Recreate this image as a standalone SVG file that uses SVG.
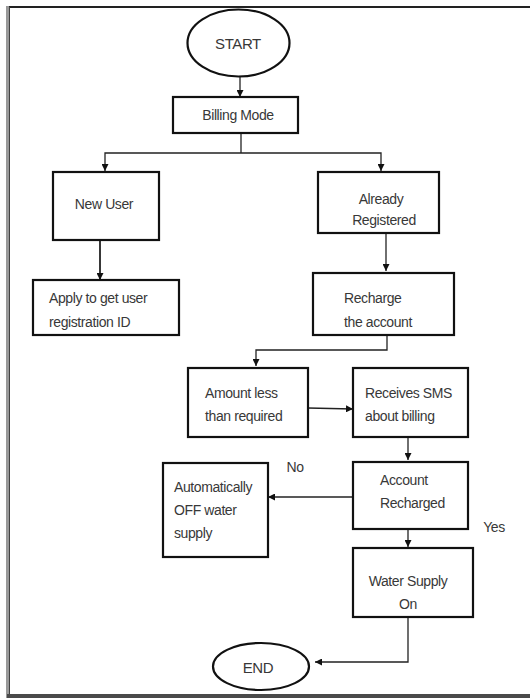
<svg xmlns="http://www.w3.org/2000/svg" width="530" height="698" viewBox="0 0 530 698">
<defs>
<style>
.box{fill:#fff;stroke:#111;stroke-width:2.2}
.t{font-family:"Liberation Sans",Arial,sans-serif;font-size:14px;fill:#383838;letter-spacing:-0.4px}
.c{text-anchor:middle}
.ln{fill:none;stroke:#222;stroke-width:1.3}
</style>
<marker id="ah" viewBox="0 0 10 10" refX="10" refY="5" markerWidth="7" markerHeight="7" markerUnits="userSpaceOnUse" orient="auto">
<path d="M0,0 L10,5 L0,10 z" fill="#111"/>
</marker>
</defs>
<rect x="0" y="0" width="530" height="698" fill="#fff"/>
<g id="frame">
<line x1="7" y1="7" x2="530" y2="7" stroke="#222" stroke-width="2"/>
<line x1="7.5" y1="6" x2="7.5" y2="698" stroke="#999" stroke-width="3"/>
<line x1="9.5" y1="7" x2="9.5" y2="695" stroke="#444" stroke-width="1"/>
<rect x="7" y="694" width="523" height="4" fill="#4a4a4a"/>
</g>
<g id="connectors">
<line class="ln" x1="240" y1="77" x2="240" y2="97" marker-end="url(#ah)"/>
<polyline class="ln" points="241,133 241,153"/>
<polyline class="ln" points="241,153 105,153 105,171" marker-end="url(#ah)"/>
<polyline class="ln" points="241,153 381,153 381,171" marker-end="url(#ah)"/>
<line class="ln" x1="100" y1="240" x2="100" y2="280" marker-end="url(#ah)" style="stroke-width:1.8"/>
<line class="ln" x1="386" y1="233" x2="386" y2="271" marker-end="url(#ah)"/>
<polyline class="ln" points="387,335 387,350 256,350 256,366" marker-end="url(#ah)"/>
<line class="ln" x1="308" y1="408" x2="353" y2="409" marker-end="url(#ah)" style="stroke-width:1.6"/>
<line class="ln" x1="408" y1="437" x2="408" y2="460" marker-end="url(#ah)"/>
<line class="ln" x1="357" y1="497" x2="268" y2="497" marker-end="url(#ah)"/>
<line class="ln" x1="408" y1="529" x2="408" y2="547" marker-end="url(#ah)"/>
<polyline class="ln" points="408,617 408,662 315,662" marker-end="url(#ah)"/>
</g>
<g id="start">
<ellipse class="box" cx="238.5" cy="43" rx="51" ry="33.5"/>
<text class="t c" x="238" y="49" style="font-size:15px">START</text>
</g>
<g id="billing">
<rect class="box" x="173" y="97" width="125" height="36"/>
<text class="t c" x="238" y="120">Billing Mode</text>
</g>
<g id="newuser">
<rect class="box" x="53" y="172" width="106" height="68"/>
<text class="t c" x="104" y="209">New User</text>
</g>
<g id="already">
<rect class="box" x="318" y="172" width="121" height="61"/>
<text class="t c" x="381" y="204">Already</text>
<text class="t c" x="384" y="225">Registered</text>
</g>
<g id="apply">
<rect class="box" x="33" y="280" width="146" height="55"/>
<text class="t" x="49" y="303">Apply to get user</text>
<text class="t" x="49" y="327">registration ID</text>
</g>
<g id="recharge">
<rect class="box" x="313" y="273" width="141" height="62"/>
<text class="t" x="344" y="303">Recharge</text>
<text class="t" x="344" y="327">the account</text>
</g>
<g id="amount">
<rect class="box" x="188" y="368" width="120" height="69"/>
<text class="t" x="205" y="398">Amount less</text>
<text class="t" x="205" y="421">than required</text>
</g>
<g id="sms">
<rect class="box" x="353" y="368" width="115" height="69"/>
<text class="t" x="365" y="398">Receives SMS</text>
<text class="t" x="365" y="421">about billing</text>
</g>
<g id="auto">
<rect class="box" x="163" y="463" width="105" height="94"/>
<text class="t" x="174" y="492">Automatically</text>
<text class="t" x="174" y="515">OFF water</text>
<text class="t" x="174" y="538">supply</text>
</g>
<g id="account">
<rect class="box" x="353" y="462" width="115" height="67"/>
<text class="t" x="380" y="485">Account</text>
<text class="t" x="380" y="508">Recharged</text>
</g>
<g id="water">
<rect class="box" x="353" y="548" width="120" height="69"/>
<text class="t c" x="408" y="586">Water Supply</text>
<text class="t c" x="408" y="609">On</text>
</g>
<g id="end">
<ellipse class="box" cx="261" cy="666.5" rx="48" ry="23.5"/>
<text class="t c" x="258" y="673" style="font-size:15px">END</text>
</g>
<g id="labels">
<text class="t c" x="295" y="472">No</text>
<text class="t c" x="494" y="532">Yes</text>
</g>
</svg>
